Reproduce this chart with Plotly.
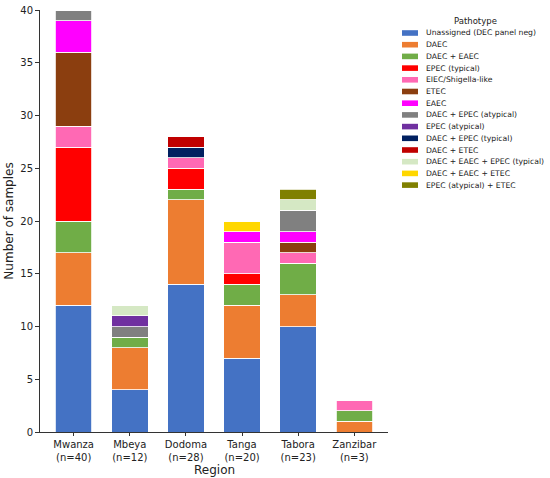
import plotly.graph_objects as go

# --- DATA ---
regions = ["Mwanza<br>(n=40)", "Mbeya<br>(n=12)", "Dodoma<br>(n=28)",
           "Tanga<br>(n=20)", "Tabora<br>(n=23)", "Zanzibar<br>(n=3)"]

pathotypes = [
    "Unassigned (DEC panel neg)", "DAEC", "DAEC + EAEC", "EPEC (typical)",
    "EIEC/Shigella-like", "ETEC", "EAEC", "DAEC + EPEC (atypical)",
    "EPEC (atypical)", "DAEC + EPEC (typical)", "DAEC + ETEC",
    "DAEC + EAEC + EPEC (typical)", "DAEC + EAEC + ETEC", "EPEC (atypical) + ETEC",
]

colors = [
    "#4472C4", "#ED7D31", "#70AD47", "#FF0000", "#FF69B4", "#8B3E0F", "#FF00FF",
    "#808080", "#7030A0", "#002060", "#C00000", "#D5E8C4", "#FFD700", "#808000",
]

# counts per region: Mwanza, Mbeya, Dodoma, Tanga, Tabora, Zanzibar
unassigned    = [12, 4, 14, 7, 10, 0]
daec          = [5, 4, 8, 5, 3, 1]
daec_eaec     = [3, 1, 1, 2, 3, 1]
epec_typ      = [7, 0, 2, 1, 0, 0]
eiec          = [2, 0, 1, 3, 1, 1]
etec          = [7, 0, 0, 0, 1, 0]
eaec          = [3, 0, 0, 1, 1, 0]
daec_epec_aty = [1, 1, 0, 0, 2, 0]
epec_aty      = [0, 1, 0, 0, 0, 0]
daec_epec_typ = [0, 0, 1, 0, 0, 0]
daec_etec     = [0, 0, 1, 0, 0, 0]
daec_eaec_epec_typ = [0, 1, 0, 0, 1, 0]
daec_eaec_etec     = [0, 0, 0, 1, 0, 0]
epec_aty_etec      = [0, 0, 0, 0, 1, 0]

series = [unassigned, daec, daec_eaec, epec_typ, eiec, etec, eaec,
          daec_epec_aty, epec_aty, daec_epec_typ, daec_etec,
          daec_eaec_epec_typ, daec_eaec_etec, epec_aty_etec]

W, H = 550, 478
L, R, T, B = 40, 162, 10, 46
pw, ph = W - L - R, H - T - B
FONT = "DejaVu Sans"

def px_x(px):
    return (px - L) / pw

def px_y(py):
    return (H - B - py) / ph

fig = go.Figure()
for name, vals, col in zip(pathotypes, series, colors):
    fig.add_trace(go.Bar(
        x=regions, y=vals, name=name,
        marker=dict(color=col, line=dict(color="white", width=0.8)),
        width=0.65, showlegend=False,
    ))

# --- legend drawn by hand, matplotlib style ---
shapes = []
annotations = [
    dict(x=px_x(475), y=px_y(21), xref="paper", yref="paper",
         text="Pathotype", showarrow=False, xanchor="center", yanchor="middle",
         font=dict(family=FONT, size=8.5, color="#222")),
    dict(x=0.5, y=px_y(470), xref="paper", yref="paper",
         text="Region", showarrow=False, xanchor="center", yanchor="middle",
         font=dict(family=FONT, size=12, color="#222")),
]
for i, (name, col) in enumerate(zip(pathotypes, colors)):
    cy = 33 + 11.7 * i
    shapes.append(dict(
        type="rect", xref="paper", yref="paper",
        x0=px_x(402), x1=px_x(418), y0=px_y(cy + 2.8), y1=px_y(cy - 2.8),
        fillcolor=col, line=dict(width=0),
    ))
    annotations.append(dict(
        x=px_x(424), y=px_y(cy), xref="paper", yref="paper",
        text=name, showarrow=False, xanchor="left", yanchor="middle",
        font=dict(family=FONT, size=7.7, color="#222"),
    ))

fig.update_layout(
    barmode="stack",
    width=W, height=H,
    margin=dict(l=L, r=R, t=T, b=B),
    plot_bgcolor="white", paper_bgcolor="white",
    font=dict(family=FONT, size=10, color="#222"),
    shapes=shapes, annotations=annotations,
    xaxis=dict(
        range=[-0.6, 5.6], showline=True, linecolor="#333", linewidth=1,
        ticks="outside", ticklen=3, tickcolor="#333",
        tickfont=dict(size=10), automargin=False,
    ),
    yaxis=dict(
        title=dict(text="Number of samples", font=dict(size=12), standoff=4),
        range=[0, 40], dtick=5, showline=True, linecolor="#333", linewidth=1,
        ticks="outside", ticklen=4, tickcolor="#333", showgrid=False,
        zeroline=False, tickfont=dict(size=10), automargin=False,
    ),
)

# page has a default 8px body margin; drop it so the figure sits at the corner
fig.write_html("out.html", config={"displayModeBar": False},
               post_script="document.body.style.margin='0';")
